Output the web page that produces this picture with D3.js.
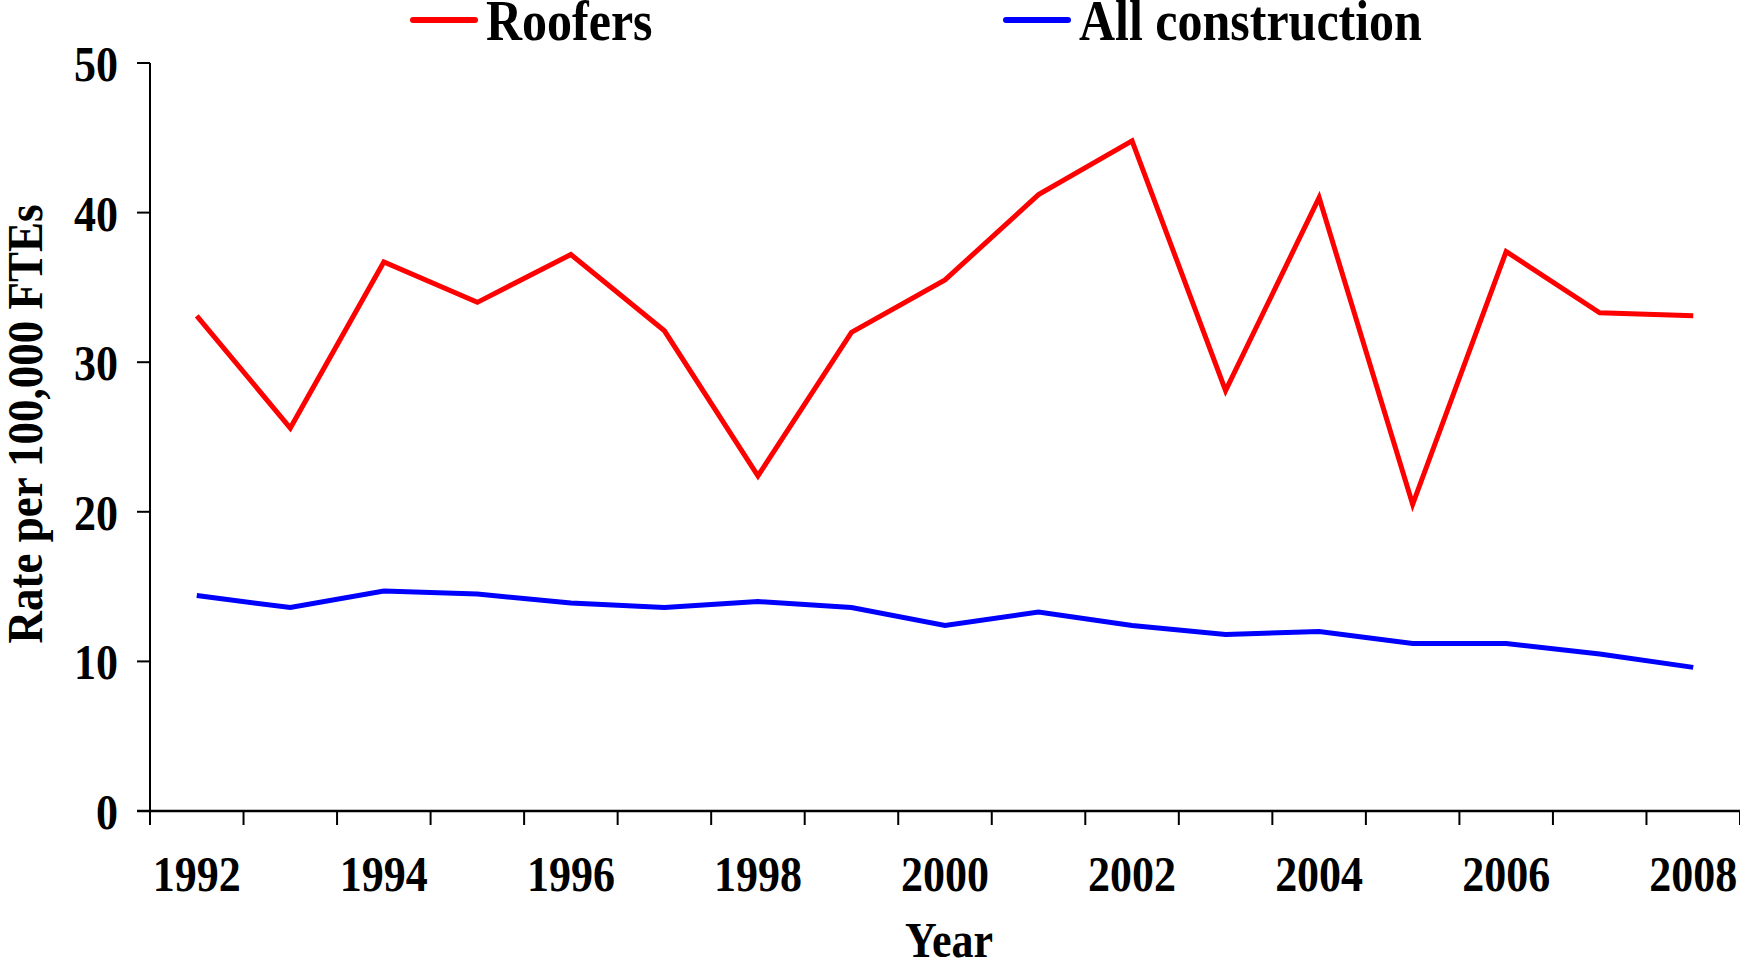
<!DOCTYPE html>
<html>
<head>
<meta charset="utf-8">
<script src="https://cdn.jsdelivr.net/npm/d3@7"></script>
<style>
  html, body { margin: 0; padding: 0; background: #fff; }
  svg { display: block; }
  text { font-family: "Liberation Serif", "Times New Roman", serif; font-weight: bold; fill: #000; }
</style>
</head>
<body>
<svg id="chart" width="1740" height="964"></svg>
<script>
// Fatality rates per 100,000 full-time equivalent workers
const years = [1992, 1993, 1994, 1995, 1996, 1997, 1998, 1999, 2000,
               2001, 2002, 2003, 2004, 2005, 2006, 2007, 2008];
const roofers = [33.1, 25.6, 36.7, 34.0, 37.2, 32.1, 22.4, 32.0, 35.5,
                 41.2, 44.8, 28.1, 41.0, 20.5, 37.4, 33.3, 33.1];
const allConstruction = [14.4, 13.6, 14.7, 14.5, 13.9, 13.6, 14.0, 13.6, 12.4,
                         13.3, 12.4, 11.8, 12.0, 11.2, 11.2, 10.5, 9.6];
const yTicks = [0, 10, 20, 30, 40, 50];
const xLabelYears = [1992, 1994, 1996, 1998, 2000, 2002, 2004, 2006, 2008];
const seriesNames = ["Roofers", "All construction"];
const seriesColors = ["#ff0000", "#0000ff"];

const svg = d3.select("#chart");
const plotLeft = 150, plotRight = 1740, plotTop = 63, plotBottom = 811;
const stretch = 1.13;

const x = d3.scaleBand().domain(years).range([plotLeft, plotRight]).padding(0);
const y = d3.scaleLinear().domain([0, 50]).range([plotBottom, plotTop]);

// Axis lines
svg.append("line")
  .attr("x1", plotLeft).attr("x2", plotLeft).attr("y1", y(50)).attr("y2", y(0))
  .attr("stroke", "#000").attr("stroke-width", 2);
svg.append("line")
  .attr("x1", plotLeft - 13).attr("x2", plotRight).attr("y1", y(0)).attr("y2", y(0))
  .attr("stroke", "#000").attr("stroke-width", 2.5);

// Y ticks and labels
svg.selectAll(".ytick").data(yTicks).join("line")
  .attr("class", "ytick")
  .attr("x1", plotLeft - 13).attr("x2", plotLeft)
  .attr("y1", d => y(d)).attr("y2", d => y(d))
  .attr("stroke", "#000").attr("stroke-width", 2);
svg.selectAll(".ylab").data(yTicks).join("text")
  .attr("class", "ylab")
  .attr("text-anchor", "end")
  .attr("dominant-baseline", "central")
  .attr("font-size", 44)
  .attr("transform", d => `translate(118,${y(d) + 1}) scale(1,${stretch})`)
  .text(d => d);

// X ticks at category boundaries
const boundaries = years.map(d => x(d)).concat([x(years[years.length - 1]) + x.bandwidth()]);
svg.selectAll(".xtick").data(boundaries).join("line")
  .attr("class", "xtick")
  .attr("x1", d => d).attr("x2", d => d)
  .attr("y1", y(0)).attr("y2", y(0) + 14)
  .attr("stroke", "#000").attr("stroke-width", 2);
svg.selectAll(".xlab").data(xLabelYears).join("text")
  .attr("class", "xlab")
  .attr("text-anchor", "middle")
  .attr("font-size", 44)
  .attr("transform", d => `translate(${x(d) + x.bandwidth() / 2},891) scale(1,${stretch})`)
  .text(d => d);

// Axis titles
svg.append("text")
  .attr("text-anchor", "middle")
  .attr("font-size", 44)
  .attr("transform", `translate(949,957) scale(1,${stretch})`)
  .text("Year");
svg.append("text")
  .attr("text-anchor", "middle")
  .attr("font-size", 45)
  .attr("transform", `translate(42,424) rotate(-90) scale(1,1.12)`)
  .text("Rate per 100,000 FTEs");

// Data lines
const line = d3.line()
  .x((d, i) => x(years[i]) + x.bandwidth() / 2)
  .y(d => y(d));
[roofers, allConstruction].forEach((vals, k) => {
  svg.append("path")
    .datum(vals)
    .attr("d", line)
    .attr("fill", "none")
    .attr("stroke", seriesColors[k])
    .attr("stroke-width", 5)
    .attr("stroke-linejoin", "miter");
});

// Legend
const legendX = [413, 1006];
seriesNames.forEach((name, k) => {
  svg.append("line")
    .attr("x1", legendX[k]).attr("x2", legendX[k] + 62)
    .attr("y1", 20).attr("y2", 20)
    .attr("stroke", seriesColors[k]).attr("stroke-width", 6)
    .attr("stroke-linecap", "round");
  svg.append("text")
    .attr("font-size", 50)
    .attr("transform", `translate(${legendX[k] + 73},40) scale(1,${stretch})`)
    .text(name);
});
</script>
</body>
</html>
